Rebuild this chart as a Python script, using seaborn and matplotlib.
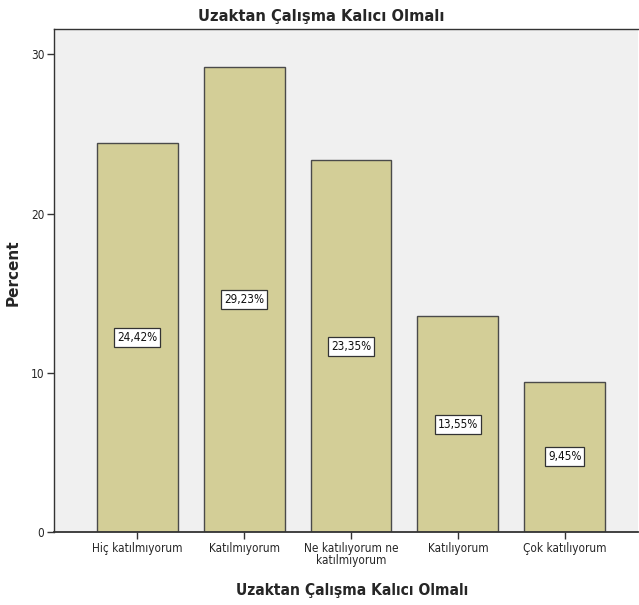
import matplotlib
matplotlib.use("Agg")
import matplotlib.pyplot as plt
import seaborn as sns
import pandas as pd

categories = ["Hiç katılmıyorum", "Katılmıyorum", "Ne katılıyorum ne\nkatılmıyorum",
              "Katılıyorum", "Çok katılıyorum"]
percents = [24.42, 29.23, 23.35, 13.55, 9.45]
value_labels = ["24,42%", "29,23%", "23,35%", "13,55%", "9,45%"]
title = "Uzaktan Çalışma Kalıcı Olmalı"

sns.set_theme(style="white")
plt.rcParams["font.family"] = ["DejaVu Sans"]
plt.rcParams["font.stretch"] = "condensed"

df = pd.DataFrame({"cat": categories, "pct": percents})

fig = plt.figure(figsize=(6.39, 6.05), dpi=100)
ax = fig.add_axes([54 / 639, 73 / 605, 1 - 54 / 639 - 0.001, (532 - 29) / 605])
ax.set_facecolor("#f0f0f0")

sns.barplot(data=df, x="cat", y="pct", ax=ax, color="#d3ce97", saturation=1,
            width=0.757, edgecolor="#4a4a4a", linewidth=1.0)

# value boxes at half the bar height
for i, (v, lab) in enumerate(zip(percents, value_labels)):
    ax.text(i, v / 2, lab, ha="center", va="center", fontsize=8.5, color="#111111",
            fontstretch="condensed",
            bbox=dict(boxstyle="square,pad=0.25", fc="white", ec="#333333", lw=0.9))

ax.set_ylim(0, 31.6)
ax.set_xlim(-0.78, 4.69)
ax.set_yticks([0, 10, 20, 30])
ax.set_yticklabels(["0", "10", "20", "30"], fontsize=8.5, fontstretch="condensed")
ax.set_xticks(range(len(categories)))
ax.set_xticklabels(categories, fontsize=8.5, linespacing=0.95, fontstretch="condensed")
ax.tick_params(axis="both", direction="out", length=5, width=1, color="#333333",
               left=True, bottom=True, pad=2)

for side in ["left", "bottom", "top"]:
    ax.spines[side].set_visible(True)
    ax.spines[side].set_color("#333333")
ax.spines["left"].set_linewidth(1.0)
ax.spines["top"].set_linewidth(1.0)
ax.spines["bottom"].set_linewidth(1.3)
ax.spines["right"].set_visible(False)

ax.set_xlabel(title, fontsize=11.2, fontweight="bold", fontstretch="condensed")
ax.xaxis.set_label_coords((352 - 54) / 585, -58 / 503)
ax.xaxis.label.set_va("center")

ax.set_ylabel("Percent", fontsize=11, fontweight="bold", fontstretch="normal")
ax.yaxis.set_label_coords((21 - 54) / 585, (532 - 273) / 503)

ax.set_title(title, fontsize=11.8, fontweight="bold", fontstretch="condensed",
             x=(322 - 54) / 585, pad=6)

fig.savefig("out.png", dpi=100, facecolor="white")
